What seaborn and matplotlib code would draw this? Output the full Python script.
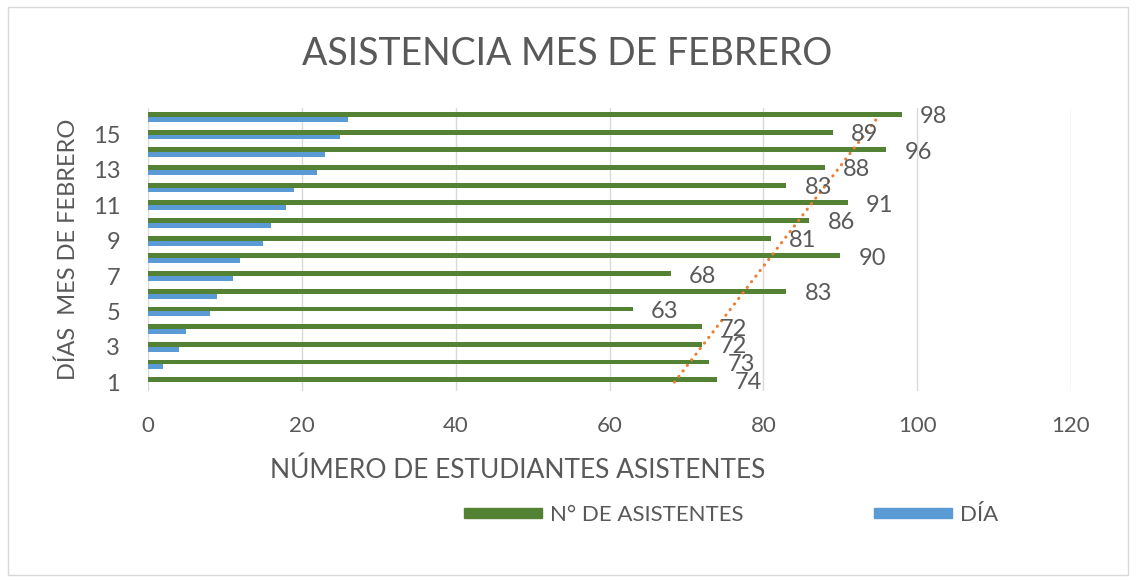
import numpy as np
import pandas as pd
import matplotlib.pyplot as plt
import seaborn as sns
from matplotlib.patches import Rectangle, Patch

# datos (de abajo hacia arriba)
dias = [str(i) for i in range(1, 17)]
asistentes = [74, 73, 72, 72, 63, 83, 68, 90, 81, 86, 91, 83, 88, 96, 89, 98]
dia_mes = [0, 2, 4, 5, 8, 9, 11, 12, 15, 16, 18, 19, 22, 23, 25, 26]
series = ["N° DE ASISTENTES", "DÍA"]
ticks_x = [0, 20, 40, 60, 80, 100, 120]

VERDE = "#548235"
AZUL = "#5b9bd5"
NARANJA = "#ed7d31"
GRIS = "#595959"

sns.set_style("white")
plt.rcParams["font.family"] = ["Lato", "DejaVu Sans"]

df = pd.DataFrame({
    "dia": dias * 2,
    "valor": asistentes + dia_mes,
    "serie": [series[0]] * len(dias) + [series[1]] * len(dias),
})

fig = plt.figure(figsize=(11.36, 5.82), dpi=100)
ax = fig.add_axes([148 / 1136, 1 - 391 / 582, (1071 - 148) / 1136, (391 - 108) / 582])

orden = dias[::-1]  # el dia 1 queda abajo
sns.barplot(data=df, y="dia", x="valor", hue="serie", order=orden, hue_order=series,
            palette=[VERDE, AZUL], width=0.55, orient="h", legend=False, ax=ax,
            saturation=1, linewidth=0)

# etiquetas solo en la serie verde, centradas en la categoria
for d, v in zip(dias, asistentes):
    ax.annotate(str(v), xy=(v, orden.index(d)), xytext=(13, 0), textcoords="offset points",
                ha="left", va="center", fontsize=17, color=GRIS)

# linea de tendencia lineal de asistentes
x_idx = np.arange(1, len(dias) + 1)
coef = np.polyfit(x_idx, asistentes, 1)
tendencia = np.polyval(coef, x_idx)
pos = [orden.index(d) for d in dias]
ax.plot(tendencia, pos, color=NARANJA, lw=2.2, linestyle=(0, (0.1, 2.2)),
        dash_capstyle="round")

ax.set_xlim(0, 120)
ax.set_xticks(ticks_x)
ax.set_ylim(len(dias) - 0.5, -0.5)
ax.set_yticks([orden.index(d) for d in dias[::2]])
ax.set_yticklabels(dias[::2])
ax.tick_params(axis="y", length=0, pad=20, labelsize=17, labelcolor=GRIS)
ax.tick_params(axis="x", length=0, pad=18, labelsize=16, labelcolor=GRIS)
ax.xaxis.grid(True, color="#d9d9d9", lw=1)
ax.set_axisbelow(True)
for s in ax.spines.values():
    s.set_visible(False)
ax.set_xlabel("")
ax.set_ylabel("DÍAS  MES DE FEBRERO", fontsize=17, color=GRIS, labelpad=10)

fig.text(0.499, 1 - 54 / 582, "ASISTENCIA MES DE FEBRERO", ha="center", va="center",
         fontsize=27, color=GRIS)
fig.text(518 / 1136, 1 - 470 / 582, "NÚMERO DE ESTUDIANTES ASISTENTES", ha="center",
         va="center", fontsize=19, color=GRIS)

handles = [Patch(color=VERDE, label=series[0]), Patch(color=AZUL, label=series[1])]
fig.legend(handles=handles, loc="center", bbox_to_anchor=(731 / 1136, 1 - 515 / 582),
           ncol=2, frameon=False, fontsize=16, labelcolor=GRIS, handlelength=3.5,
           handleheight=0.36, handletextpad=0.36, columnspacing=5.9)

# borde del area del grafico
fig.add_artist(Rectangle((8 / 1136, 7 / 582), 1120 / 1136, 568 / 582,
                         transform=fig.transFigure, fill=False, ec="#d9d9d9", lw=1))

plt.savefig("out.png", dpi=100)
plt.close()
